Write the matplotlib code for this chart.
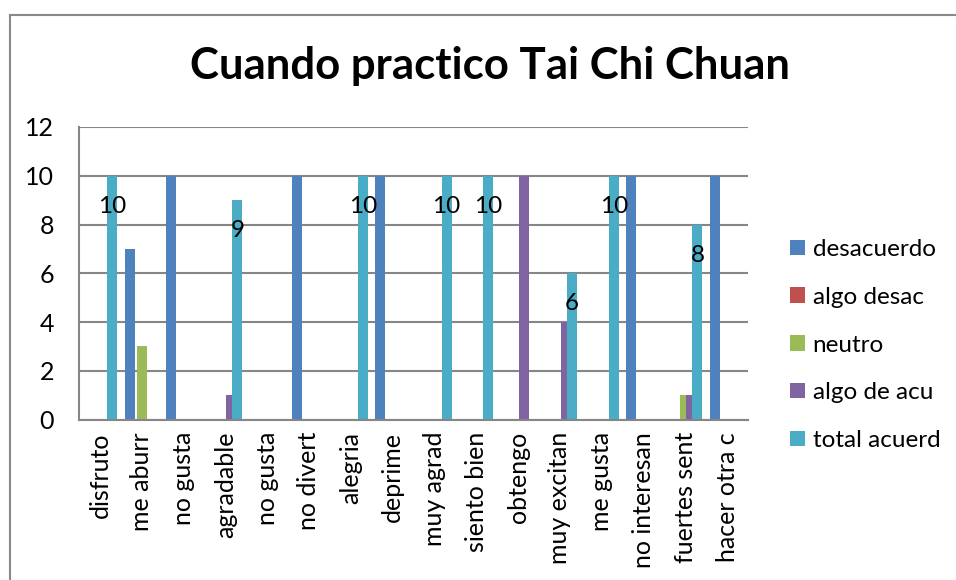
import numpy as np
import matplotlib
matplotlib.use('Agg')
import matplotlib.pyplot as plt
from matplotlib.lines import Line2D

plt.rcParams['font.family'] = ['Lato', 'DejaVu Sans']

# categories and series
categorias = ['disfruto', 'me aburr', 'no gusta', 'agradable', 'no gusta', 'no divert',
              'alegria', 'deprime', 'muy agrad', 'siento bien', 'obtengo', 'muy excitan',
              'me gusta', 'no interesan', 'fuertes sent', 'hacer otra c']
desacuerdo = [0, 7, 10, 0, 0, 10, 0, 10, 0, 0, 0, 0, 0, 10, 0, 10]
algo_desac = [0, 0, 0, 0, 0, 0, 0, 0, 0, 0, 0, 0, 0, 0, 0, 0]
neutro = [0, 3, 0, 0, 0, 0, 0, 0, 0, 0, 0, 0, 0, 0, 1, 0]
algo_de_acu = [0, 0, 0, 1, 0, 0, 0, 0, 0, 0, 10, 4, 0, 0, 1, 0]
total_acuerd = [10, 0, 0, 9, 0, 0, 10, 0, 10, 10, 0, 6, 10, 0, 8, 0]

series = [('desacuerdo', desacuerdo, '#4F81BD'),
          ('algo desac', algo_desac, '#C0504D'),
          ('neutro', neutro, '#9BBB59'),
          ('algo de acu', algo_de_acu, '#8064A2'),
          ('total acuerd', total_acuerd, '#4BACC6')]

fig = plt.figure(figsize=(9.56, 5.8), dpi=100)
ax = fig.add_axes([79/956, (580-419.5)/580, (748-79)/956, (419.5-127)/580])

x = np.arange(len(categorias))
paso = 0.145
ancho = 0.24
for i, (nombre, vals, color) in enumerate(series):
    bars = ax.bar(x + (i - 2) * paso, vals, width=ancho, color=color, label=nombre)
    if nombre == 'total acuerd':
        for b, v in zip(bars, vals):
            if v > 0:
                ax.annotate(str(v), (b.get_x() + b.get_width()/2, v), xytext=(0, -22),
                            textcoords='offset points', ha='center', va='center', fontsize=17.5)

ax.set_xlim(-0.5, len(categorias) - 0.5)
ax.set_ylim(0, 12)
ax.set_yticks(range(0, 13, 2))
ax.set_xticks(x)
ax.set_xticklabels(categorias, rotation=90, fontsize=18)
ax.tick_params(axis='y', length=0, labelsize=18, pad=18)
ax.tick_params(axis='x', length=0, pad=9)
ax.grid(axis='y', color='#868686', linewidth=1.5)
ax.set_axisbelow(True)
for s in ['top', 'right']:
    ax.spines[s].set_visible(False)
ax.spines['left'].set_color('#868686')
ax.spines['bottom'].set_color('#868686')
ax.spines['left'].set_linewidth(1.5)
ax.spines['bottom'].set_linewidth(1.5)

fig.text(490/956, (580-66)/580, 'Cuando practico Tai Chi Chuan', ha='center', va='center',
         fontsize=31.5, fontweight='bold')

fig.legend(loc='center left', bbox_to_anchor=(790/956, (580-345)/580), frameon=False,
           fontsize=17.5, handlelength=0.6, handleheight=0.6, handletextpad=0.33,
           labelspacing=1.1, borderpad=0, borderaxespad=0)

# outer chart border
fig.add_artist(Line2D([10/956, 1], [(580-15)/580] * 2, color='#898989', linewidth=1.5))
fig.add_artist(Line2D([10/956] * 2, [0, (580-15)/580], color='#898989', linewidth=1.5))

fig.savefig('out.png', dpi=100)
